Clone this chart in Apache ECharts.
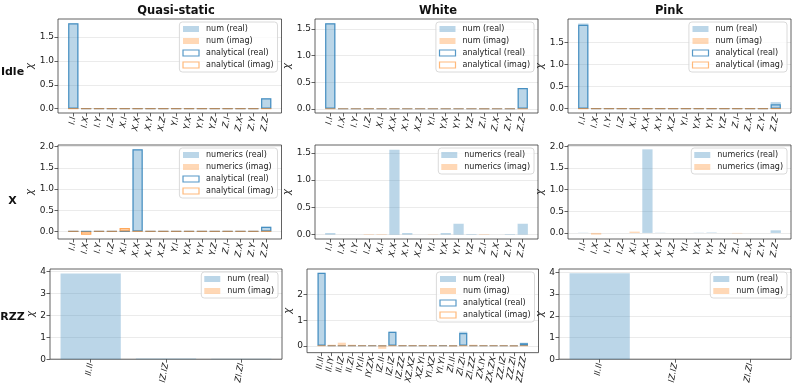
<!DOCTYPE html>
<html><head><meta charset="utf-8">
<script src="https://cdn.jsdelivr.net/npm/echarts@6/dist/echarts.min.js"></script>
<style>html,body{margin:0;padding:0;background:#fff}#c{width:793px;height:386px}</style>
</head><body><div id="c"></div>
<script>
// ---------------- categories ----------------
const catsPauli = ['I.I','I.X','I.Y','I.Z','X.I','X.X','X.Y','X.Z','Y.I','Y.X','Y.Y','Y.Z','Z.I','Z.X','Z.Y','Z.Z'];
const catsRzz3 = ['II.II','IZ.IZ','ZI.ZI'];
const catsRzzWhite = ['II.II','II.IY','II.IZ','II.ZI','IY.II','IY.ZX','IZ.II','IZ.IZ','IZ.ZZ','XZ.XZ','XZ.YI','YI.XZ','YI.YI','ZI.II','ZI.ZI','ZI.ZZ','ZX.IY','ZX.ZX','ZZ.IZ','ZZ.ZI','ZZ.ZZ'];

// ---------------- Idle ----------------
const idleQS_numReal = [1.79,0,0,0,0,0,0,0,0,0,0,0,0,0,0,0.22];
const idleQS_numImag = [0,0,0,-0.002,0,0,0,0,0,0,0,0,0,0,0,0];
const idleQS_anaReal = [1.79,0,0,0,0,0,0,0,0,0,0,0,0,0,0,0.22];
const idleQS_anaImag = [0,0,0,0,0,0,0,0,0,0,0,0,0,0,0,0];

const idleW_numReal = [1.61,0,0,0,0,0,0,0,0,0,0,0,0,0,0,0.39];
const idleW_numImag = [0,0,0,0.01,0,0,0,0,0,0,0,0,-0.01,0,0,0];
const idleW_anaReal = [1.61,0,0,0,0,0,0,0,0,0,0,0,0,0,0,0.39];
const idleW_anaImag = [0,0,0,0,0,0,0,0,0,0,0,0,0,0,0,0];

const idleP_numReal = [1.93,0,0,0,0,0,0,0,0,0,0,0,0,0,0,0.15];
const idleP_numImag = [0,0,0,0,0,0,0,0,0,0,0,0,0,0,0,0];
const idleP_anaReal = [1.90,0,0,0,0,0,0,0,0,0,0,0,0,0,0,0.10];
const idleP_anaImag = [0,0,0,0,0,0,0,0,0,0,0,0,0,0,0,0];

// ---------------- X ----------------
const xQS_numReal = [0,0,0,0,0,1.94,0,0,0,0,0,0,0,0,0,0.11];
const xQS_numImag = [0,-0.08,0,0,0.08,0,0,0,0,0,0,0,0,0,0,0];
const xQS_anaReal = [0,0,0,0,0,1.94,0,0,0,0,0,0,0,0,0,0.11];
const xQS_anaImag = [0,-0.08,0,0,0.08,0,0,0,0,0,0,0,0,0,0,0];

const xW_numReal = [0.03,0,0,0,0,1.56,0.03,0,0,0.03,0.20,0.01,0,0,0.01,0.20];
const xW_numImag = [0,0,0,0.01,0.01,0,0,0,0.005,0,0,0,0.01,0,0,0];

const xP_numReal = [0.005,0,0,0,0,1.93,0.005,0,0,0.005,0.01,0,0,0,0,0.06];
const xP_numImag = [0,-0.04,0,0,0.03,0,0,0,0,0,0,0,-0.01,0,0,0];

// ---------------- RZZ ----------------
const rzzQS_numReal = [3.92,0.03,0.02];
const rzzQS_numImag = [0,0,0];

const rzzW_numReal = [2.85,0,0,0,0,0.02,0,0.55,0,0,0,0,0.03,0,0.55,0,0,0,0,0,0.12];
const rzzW_numImag = [0,0.04,0.12,0.04,0.02,0,-0.12,0,0.03,0.03,0.02,0.02,0,-0.03,0,0.04,0.02,0.02,0.02,-0.03,0];
const rzzW_anaReal = [2.85,0,0,0,0,0,0,0.55,0,0,0,0,0,0,0.50,0,0,0,0,0,0.10];
const rzzW_anaImag = [0,0,0,0,0,0,0,0,0,0,0,0,0,0,0,0,0,0,0,0,0];

const rzzP_numReal = [3.96,0,0];
const rzzP_numImag = [0,0,0];

// ---------------- labels ----------------
const colTitles = ['Quasi-static','White','Pink'];
const rowTitles = ['Idle','X','RZZ'];
const legShort = ['num (real)','num (imag)','analytical (real)','analytical (imag)'];
const legLong = ['numerics (real)','numerics (imag)','analytical (real)','analytical (imag)'];
const ticksRow1 = [0,0.5,1.0,1.5];
const ticksRow2 = [0,0.5,1.0,1.5,2.0];
const ticksRzz = [0,1,2,3,4];
const ticksRzzW = [0,1,2];

// ---------------- panel layout ----------------
const panels = [
 {cats:catsPauli, series:[idleQS_numReal,idleQS_numImag,idleQS_anaReal,idleQS_anaImag], names:legShort, l:58, r:281.5, t:19, b:113, ymin:-0.09, ymax:1.88, ticks:ticksRow1, dec:1, gap:19},
 {cats:catsPauli, series:[idleW_numReal,idleW_numImag,idleW_anaReal,idleW_anaImag], names:legShort, l:315, r:538, t:19, b:113, ymin:-0.08, ymax:1.69, ticks:ticksRow1, dec:1, gap:17},
 {cats:catsPauli, series:[idleP_numReal,idleP_numImag,idleP_anaReal,idleP_anaImag], names:legShort, l:568, r:791, t:19, b:113, ymin:-0.097, ymax:2.03, ticks:ticksRow1, dec:1, gap:19},
 {cats:catsPauli, series:[xQS_numReal,xQS_numImag,xQS_anaReal,xQS_anaImag], names:legLong, l:58, r:281.5, t:145, b:239, ymin:-0.18, ymax:2.04, ticks:ticksRow2, dec:1, gap:19},
 {cats:catsPauli, series:[xW_numReal,xW_numImag], names:legLong, l:315, r:538, t:145, b:239, ymin:-0.08, ymax:1.645, ticks:ticksRow1, dec:1, gap:17},
 {cats:catsPauli, series:[xP_numReal,xP_numImag], names:legLong, l:568, r:791, t:145, b:239, ymin:-0.14, ymax:2.03, ticks:ticksRow2, dec:1, gap:19},
 {cats:catsRzz3, series:[rzzQS_numReal,rzzQS_numImag], names:legShort, l:50, r:282, t:269, b:360, ymin:0, ymax:4.12, ticks:ticksRzz, dec:0, gap:12},
 {cats:catsRzzWhite, series:[rzzW_numReal,rzzW_numImag,rzzW_anaReal,rzzW_anaImag], names:legShort, l:307, r:538.5, t:269, b:354, ymin:-0.27, ymax:3.0, ticks:ticksRzzW, dec:0, gap:11},
 {cats:catsRzz3, series:[rzzP_numReal,rzzP_numImag], names:legShort, l:559, r:791, t:269, b:360, ymin:0, ymax:4.16, ticks:ticksRzz, dec:0, gap:11}
];

const W = 793, H = 386;
const FONT = 'DejaVu Sans';
const styles = [
  {color:'rgba(31,119,180,0.3)'},
  {color:'rgba(255,127,14,0.3)'},
  {color:'rgba(0,0,0,0)', borderColor:'rgba(31,119,180,0.75)', borderWidth:1.2},
  {color:'rgba(0,0,0,0)', borderColor:'rgba(255,127,14,0.55)', borderWidth:1.2}
];

const grid = [], xAxis = [], yAxis = [], series = [], legend = [];
panels.forEach((p, i) => {
  const n = p.cats.length;
  const R = n - 0.2;
  const xmin = -0.4 - 0.05 * R, xmax = n - 1 + 0.4 + 0.05 * R;
  const idx = p.cats.map((c, k) => k);
  grid.push({left:p.l, top:p.t, width:p.r - p.l, height:p.b - p.t, show:true,
    borderColor:'#3a3a3a', borderWidth:0.8, backgroundColor:'transparent'});
  xAxis.push({type:'value', gridIndex:i, min:xmin, max:xmax, position:'bottom',
    axisLine:{show:false, onZero:false}, splitLine:{show:false},
    axisTick:{show:true, customValues:idx, length:3.5, lineStyle:{color:'#3a3a3a', width:0.8}},
    axisLabel:{customValues:idx, rotate:80, fontSize:8.5, fontStyle:'italic', fontFamily:FONT, color:'#222', margin:4,
      formatter:(v) => p.cats[Math.round(v)]}});
  yAxis.push({type:'value', gridIndex:i, min:p.ymin, max:p.ymax, position:'left',
    name:'χ', nameLocation:'middle', nameGap:p.gap, nameRotate:90,
    nameTextStyle:{fontSize:10, fontStyle:'italic', fontFamily:FONT, color:'#222'},
    axisLine:{show:false, onZero:false},
    axisTick:{show:true, customValues:p.ticks, length:3.5, lineStyle:{color:'#3a3a3a', width:0.8}},
    axisLabel:{customValues:p.ticks, fontSize:9, fontFamily:FONT, color:'#222', margin:4,
      formatter:(v) => v.toFixed(p.dec)},
    splitLine:{show:true, lineStyle:{color:'rgba(0,0,0,0.1)', width:0.8}}});
  p.series.forEach((arr, s) => {
    series.push({type:'bar', name:p.names[s], xAxisIndex:i, yAxisIndex:i,
      barWidth:'80%', barGap:'-100%', silent:true, animation:false,
      itemStyle:styles[s], z:2 + s,
      data:arr.map((v, k) => [k, v])});
  });
  legend.push({orient:'vertical', right:W - p.r + 4, top:p.t + 3, selectedMode:false,
    itemWidth:16, itemHeight:6, itemGap:4, icon:'rect',
    backgroundColor:'rgba(255,255,255,0.8)', borderColor:'#d0d0d0', borderWidth:0.8, borderRadius:3,
    padding:[3,4,3,3],
    textStyle:{fontSize:8, fontFamily:FONT, color:'#222', padding:[0,0,0,2]},
    data:p.series.map((arr, s) => ({name:p.names[s], itemStyle:Object.assign({}, styles[s])}))});
});

const graphic = [];
const titleX = [176, 438, 669];
colTitles.forEach((t, c) => graphic.push({type:'text', x:titleX[c], y:11.5,
  style:{text:t, font:'bold 11.5px "DejaVu Sans"', fill:'#111', textAlign:'center', textVerticalAlign:'middle'}}));
const rowLabY = [72.5, 201, 317];
rowTitles.forEach((t, r) => graphic.push({type:'text', x:12.5, y:rowLabY[r],
  style:{text:t, font:'bold 11px "DejaVu Sans"', fill:'#111', textAlign:'center', textVerticalAlign:'middle'}}));

const chart = echarts.init(document.getElementById('c'), null, {renderer:'canvas'});
chart.setOption({animation:false, textStyle:{fontFamily:FONT}, grid, xAxis, yAxis, series, legend, graphic});
</script></body></html>
